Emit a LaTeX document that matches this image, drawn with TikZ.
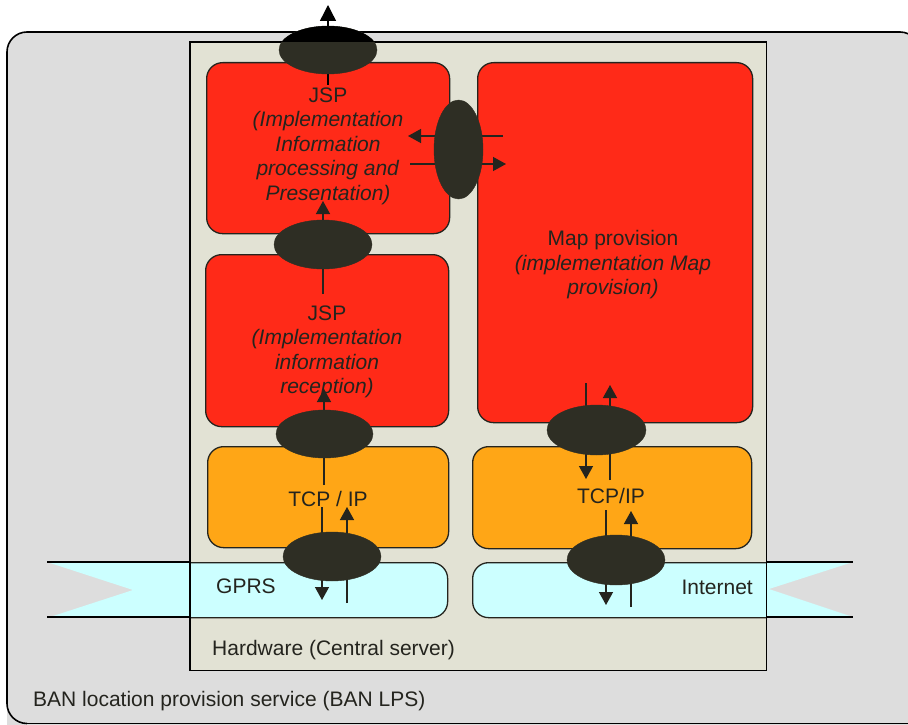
\documentclass[tikz,border=0pt]{standalone}
\usepackage{fontspec}
\setmainfont{Liberation Sans}
\usetikzlibrary{shapes.geometric,arrows.meta}

\definecolor{panel}{RGB}{221,221,221}
\definecolor{hwfill}{RGB}{226,226,212}
\definecolor{appred}{RGB}{255,42,24}
\definecolor{netorange}{RGB}{255,166,22}
\definecolor{linkcyan}{RGB}{204,255,255}
\definecolor{port}{RGB}{46,46,36}
\definecolor{ink}{RGB}{36,36,30}

\begin{document}
\begin{tikzpicture}[x=1pt,y=-1pt,
  every node/.style={font=\fontsize{21}{24.5}\selectfont, text=ink},
  layerbox/.style={draw=ink, line width=1.3pt, rounded corners=16pt,
    inner sep=0pt, anchor=north west},
  portnode/.style={ellipse, fill=port, draw=port, inner sep=0pt},
  conn/.style={draw=ink, line width=1.4pt, -{Triangle[length=13pt,width=14pt]}},
  bigconn/.style={draw=black, line width=1.4pt, -{Triangle[length=16pt,width=16pt]}},
  edge/.style={draw=black, line width=1.4pt}]
\useasboundingbox (0,0) rectangle (908,725);

% service frame: top and left edges with their corners; it runs off the page on the right
\fill[panel] (7,52) arc[start angle=180, end angle=90, radius=20pt] -- (900,32)
  arc[start angle=90, end angle=45, radius=20pt] -- (908,36) -- (908,725)
  -- (7,725) -- cycle;
\draw[line width=1.6pt] (27,723.5) arc[start angle=270, end angle=180, radius=20pt]
  -- (7,52) arc[start angle=180, end angle=90, radius=20pt] -- (900,32)
  arc[start angle=90, end angle=40, radius=20pt];
\draw[line width=1.6pt] (27,723.5) -- (908,723.5);

% central server
\node[fill=hwfill, inner sep=0pt, anchor=north west,
      minimum width=576pt, minimum height=628pt] (hw) at (190,42) {};

% application and network layers
\node[layerbox, fill=appred, minimum width=243pt, minimum height=171pt] (jspA) at (206,62) {};
\node[layerbox, fill=appred, minimum width=243pt, minimum height=172pt] (jspB) at (205,254) {};
\node[layerbox, fill=appred, minimum width=275pt, minimum height=360pt] (map) at (477,62) {};
\node[layerbox, fill=netorange, minimum width=241pt, minimum height=101pt] (tcpA) at (207,446) {};
\node[layerbox, fill=netorange, minimum width=279pt, minimum height=102pt] (tcpB) at (472,446) {};

% link layers, cut off at the server wall
\begin{scope}
  \clip (190,0) rectangle (766,725);
  \node[layerbox, fill=linkcyan, minimum width=287pt, minimum height=55pt] (gprs) at (160,562) {};
  \node[layerbox, fill=linkcyan, minimum width=328pt, minimum height=55pt] (inet) at (472,562) {};
\end{scope}

% link bands leaving the server
\fill[linkcyan] (47,562) -- (190,562) -- (190,617) -- (50,617) -- (133,590) -- cycle;
\draw[edge] (47,562) -- (190,562) (47,617) -- (190,617);
\fill[linkcyan] (766,562) -- (853,562) -- (769,589) -- (853,617) -- (766,617) -- cycle;
\draw[edge] (766,562) -- (853,562) (766,617) -- (853,617);

% server outline
\draw[edge] (hw.north west) rectangle (hw.south east);

% data flows through the interfaces
\coordinate (o1) at (328,85);   \coordinate (o1t) at (328,5);
\coordinate (o2) at (323,294);  \coordinate (o2t) at (323,201);
\coordinate (o3) at (324,485);  \coordinate (o3t) at (324,389);
\coordinate (o4) at (322,507);  \coordinate (o4t) at (322,600);
\coordinate (o5) at (347,603);  \coordinate (o5t) at (347,507);
\coordinate (o6) at (586,383);  \coordinate (o6t) at (586,479);
\coordinate (o7) at (610,480);  \coordinate (o7t) at (610,385);
\coordinate (o8) at (606,510);  \coordinate (o8t) at (606,605);
\coordinate (o9) at (631,607);  \coordinate (o9t) at (631,511);
\coordinate (o10) at (503,136); \coordinate (o10t) at (408,136);
\coordinate (o11) at (410,164); \coordinate (o11t) at (506,164);

\draw[bigconn] (o1) -- (o1t);
\draw[conn] (o2) -- (o2t);
\draw[conn] (o3) -- (o3t);
\draw[conn] (o4) -- (o4t);
\draw[conn] (o5) -- (o5t);
\draw[conn] (o6) -- (o6t);
\draw[conn] (o7) -- (o7t);
\draw[conn] (o8) -- (o8t);
\draw[conn] (o9) -- (o9t);
\draw[conn] (o10) -- (o10t);
\draw[conn] (o11) -- (o11t);

% interfaces
\node[portnode, minimum width=98pt, minimum height=48pt] (e1) at (328,50) {};
\begin{scope}
  \clip (0,0) rectangle (908,42);
  \fill[black] (e1.center) ellipse [x radius=49pt, y radius=24pt];
\end{scope}
\node[portnode, minimum width=98pt, minimum height=49pt] (e2) at (323,244.5) {};
\node[portnode, minimum width=97pt, minimum height=48pt] (e3) at (324.5,434) {};
\node[portnode, minimum width=98pt, minimum height=49pt] (e4) at (332,556.5) {};
\node[portnode, minimum width=99pt, minimum height=50pt] (e5) at (596.5,430) {};
\node[portnode, minimum width=98pt, minimum height=50pt] (e6) at (616,560) {};
\node[portnode, minimum width=49pt, minimum height=99pt] (e7) at (458.5,149.5) {};

% labels
\node[align=center] (tA) at (328,146) {JSP\\\textit{(Implementation}\\\textit{Information}\\\textit{processing and}\\\textit{Presentation)}};
\node[align=center] (tB) at (327,352) {JSP\\\textit{(Implementation}\\\textit{information}\\\textit{reception)}};
\node[align=center] (tM) at (613,265) {Map provision\\\textit{(implementation Map}\\\textit{provision)}};
\node[anchor=base] (tT1) at (328,506.5) {TCP / IP};
\node[anchor=base] (tT2) at (611,503.5) {TCP/IP};
\node[anchor=base west, inner sep=0pt] (tG) at (216,593.5) {GPRS};
\node[anchor=base east, inner sep=0pt] (tI) at (753,594.5) {Internet};
\node[anchor=base west, inner sep=0pt] (tH) at (212,655.5) {Hardware (Central server)};
\node[anchor=base west, inner sep=0pt] (tS) at (33,706.5) {BAN location provision service (BAN LPS)};
\end{tikzpicture}
\end{document}
